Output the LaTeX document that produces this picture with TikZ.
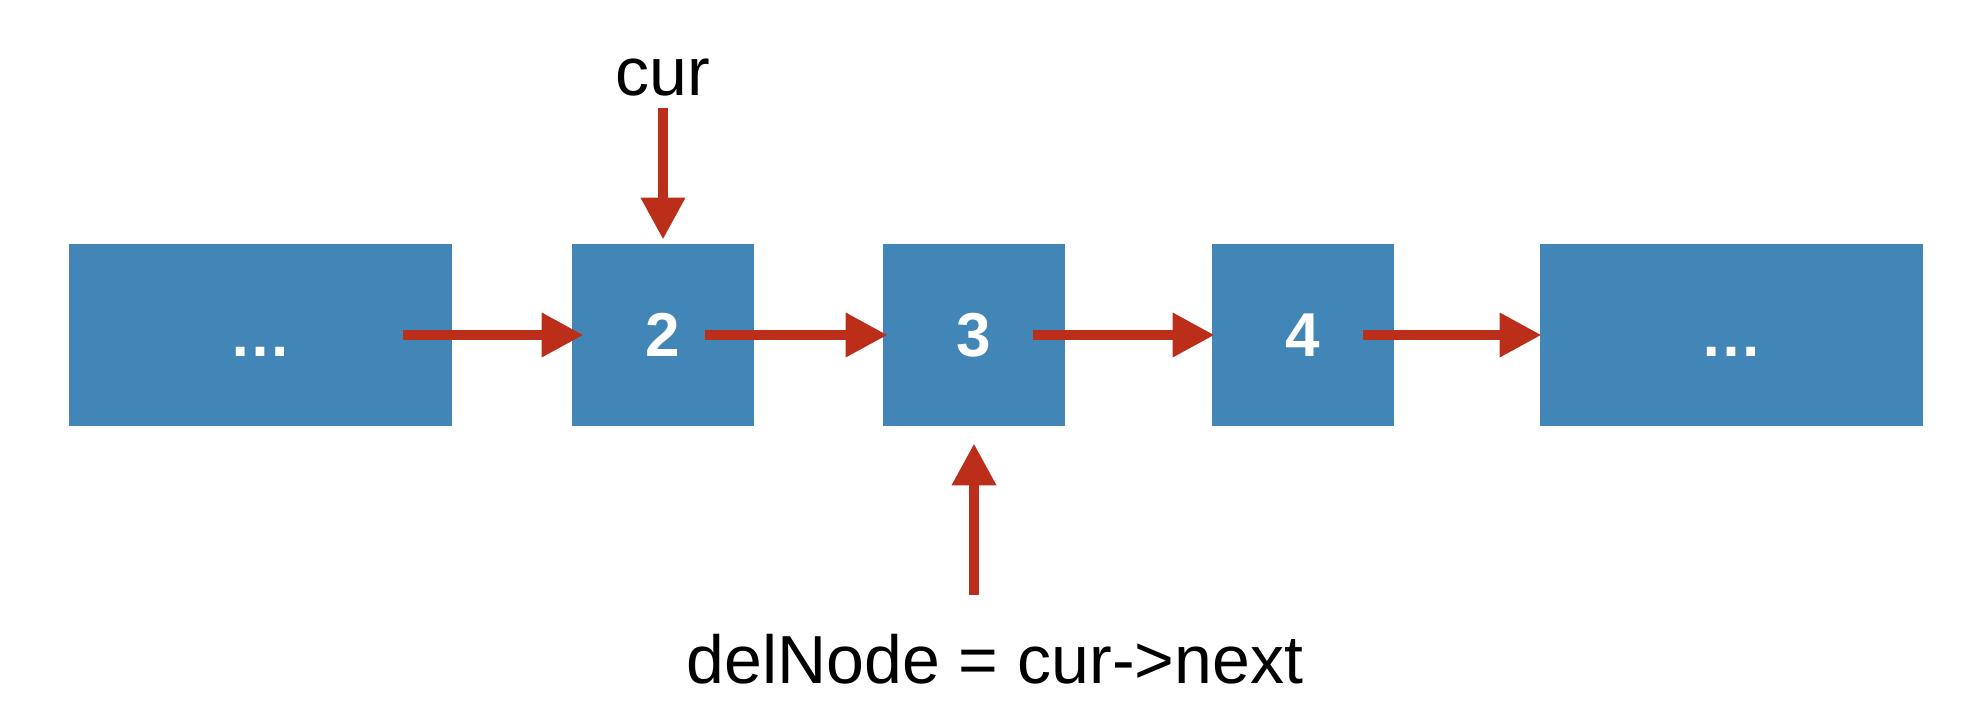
\documentclass[tikz,border=0pt]{standalone}
\usepackage{fontspec}
\setmainfont{Liberation Sans}
\usetikzlibrary{arrows.meta}
\definecolor{nodeblue}{RGB}{66,134,183}
\definecolor{arrowred}{RGB}{187,47,26}
\tikzset{
  listbox/.style={fill=nodeblue, draw=none, inner sep=0pt, minimum height=91pt, text=white, font=\fontsize{31}{36}\selectfont\bfseries},
  smallbox/.style={listbox, minimum width=91pt},
  widebox/.style={listbox, minimum width=191.5pt},
  link/.style={draw=arrowred, line width=5pt, -{Triangle[length=21pt,width=21pt]}},
  label/.style={font=\fontsize{34}{40}\selectfont, text=black, inner sep=0pt, anchor=base}
}
\begin{document}
\begin{tikzpicture}[x=0.5pt, y=-0.5pt]
\useasboundingbox (0,0) rectangle (1983,724);
\node[widebox]  (b1) at (260,335)    {\vphantom{2}\char"2026};
\node[smallbox] (b2) at (663,335)    {2};
\node[smallbox] (b3) at (974,335)    {3};
\node[smallbox] (b4) at (1303,335)   {4};
\node[widebox]  (b5) at (1731.5,335) {\vphantom{2}\char"2026};

\draw[link] ([xshift=-24.5pt]b1.east) -- ([xshift=6pt]b2.west);
\draw[link] ([xshift=-24.5pt]b2.east) -- ([xshift=2.5pt]b3.west);
\draw[link] ([xshift=-16pt]b3.east)   -- ([xshift=1.5pt]b4.west);
\draw[link] ([xshift=-15.5pt]b4.east) -- ([xshift=1pt]b5.west);

\node[label] (cur) at (663,95) {cur};
\coordinate (curtail) at (663,108);
\draw[link] (curtail) -- ([yshift=2pt]b2.north);

\node[label] (del) at (995,683) {delNode = cur->next};
\coordinate (deltail) at (974,595);
\draw[link] (deltail) -- ([yshift=-8.5pt]b3.south);
\end{tikzpicture}
\end{document}
